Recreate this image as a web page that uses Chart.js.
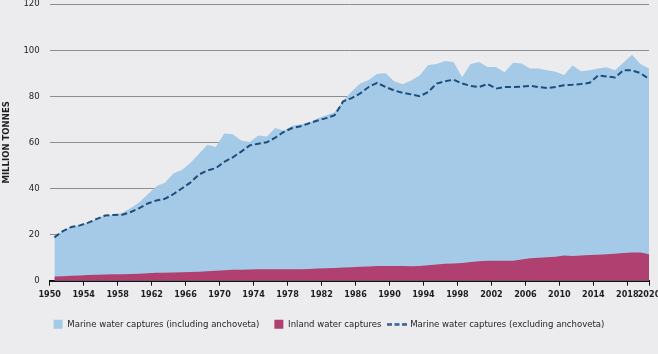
<!DOCTYPE html>
<html>
<head>
<meta charset="utf-8">
<script src="https://cdn.jsdelivr.net/npm/chart.js@4/dist/chart.umd.min.js"></script>
<style>
  html, body { margin: 0; padding: 0; background: #ececee; }
  #wrap { width: 658px; height: 354px; }
</style>
</head>
<body>
<div id="wrap"><canvas id="captureChart"></canvas></div>
<script>
// world capture production, million tonnes
const years = [
  1950, 1951, 1952, 1953, 1954, 1955, 1956, 1957, 1958, 1959,
  1960, 1961, 1962, 1963, 1964, 1965, 1966, 1967, 1968, 1969,
  1970, 1971, 1972, 1973, 1974, 1975, 1976, 1977, 1978, 1979,
  1980, 1981, 1982, 1983, 1984, 1985, 1986, 1987, 1988, 1989,
  1990, 1991, 1992, 1993, 1994, 1995, 1996, 1997, 1998, 1999,
  2000, 2001, 2002, 2003, 2004, 2005, 2006, 2007, 2008, 2009,
  2010, 2011, 2012, 2013, 2014, 2015, 2016, 2017, 2018, 2019,
  2020
];

// top of the light blue area (marine incl. anchoveta, on top of inland)
const marineIncl = [
  19.2, 21.5, 23.3, 24.0, 25.2, 26.8, 28.3, 28.5, 29.5, 31.5,
  34.0, 37.5, 41.0, 42.5, 46.5, 48.0, 51.0, 55.0, 59.0, 58.0,
  63.8, 63.5, 60.8, 60.2, 63.0, 62.5, 66.2, 65.0, 67.2, 67.8,
  68.5, 70.5, 71.8, 73.0, 78.0, 82.0, 85.5, 87.0, 89.8, 90.0,
  86.5, 85.2, 86.8, 89.0, 93.5, 94.0, 95.3, 94.9, 88.2, 94.0,
  94.9, 92.7, 92.7, 90.4, 94.5, 94.2, 92.0, 92.0, 91.3, 90.6,
  89.2, 93.3, 90.8, 91.3, 92.0, 92.6, 91.3, 94.6, 98.0, 94.0,
  92.0
];

// inland water captures
const inland = [
  1.8, 1.9, 2.1, 2.3, 2.5, 2.6, 2.7, 2.8, 2.8, 2.9,
  3.0, 3.2, 3.4, 3.4, 3.6, 3.7, 3.8, 3.9, 4.1, 4.3,
  4.5, 4.7, 4.8, 4.9, 5.0, 5.0, 5.0, 5.0, 5.0, 5.0,
  5.1, 5.3, 5.4, 5.5, 5.7, 5.8, 6.0, 6.2, 6.4, 6.4,
  6.4, 6.4, 6.3, 6.4, 6.7, 7.0, 7.3, 7.5, 7.7, 8.1,
  8.4, 8.6, 8.6, 8.6, 8.7, 9.2, 9.7, 10.0, 10.2, 10.4,
  10.9, 10.7, 10.9, 11.1, 11.3, 11.5, 11.7, 12.0, 12.2, 12.2,
  11.5
];

// dashed line (marine excl. anchoveta, on top of inland)
const marineExcl = [
  18.8, 21.5, 23.3, 24.0, 25.2, 26.8, 28.3, 28.5, 28.6, 29.8,
  31.5, 33.5, 34.8, 35.5, 37.5, 40.0, 42.5, 46.0, 47.8, 48.8,
  51.5, 53.5, 56.0, 58.7, 59.4, 60.0, 62.0, 64.5, 66.2, 67.0,
  68.3, 69.5, 70.5, 71.8, 77.8, 79.2, 81.2, 84.0, 85.8, 84.0,
  82.5, 81.5, 80.8, 80.0, 81.8, 85.5, 86.5, 87.2, 85.5, 84.5,
  84.0, 85.3, 83.3, 84.0, 84.0, 84.2, 84.5, 84.0, 83.6, 84.0,
  84.8, 85.0, 85.3, 85.8, 89.0, 88.6, 88.1, 91.3, 91.2, 90.0,
  87.5
];

const xTickLabels = [1950, 1954, 1958, 1962, 1966, 1970, 1974, 1978, 1982, 1986,
  1990, 1994, 1998, 2002, 2006, 2010, 2014, 2018, 2020];

const BLUE = "#a5cae8";
const MAGENTA = "#b0406f";
const NAVY = "#1d4e7b";
const TEXT = "#1e1e1e";
const FONT = "'Liberation Sans Narrow', 'DejaVu Sans Condensed', 'Arial Narrow', sans-serif";
// ticks sit a little before the year they label (except the last one)
const tickShift = 0.55;

function toPoints(values) {
    return values.map((v, i) => ({ x: years[i], y: v }));
}

// little dashed icon for the legend (blank strip on the right keeps it off the text)
const dashIcon = document.createElement("canvas");
dashIcon.width = 28;
dashIcon.height = 3;
const dctx = dashIcon.getContext("2d");
dctx.strokeStyle = "#2b5f93";
dctx.lineWidth = 2.5;
dctx.setLineDash([5, 2.5]);
dctx.beginPath();
dctx.moveTo(0, 1.5);
dctx.lineTo(20, 1.5);
dctx.stroke();

const ctx = document.getElementById("captureChart").getContext("2d");

new Chart(ctx, {
    type: "line",
    data: {
        datasets: [{
            label: "Marine water captures (including anchoveta)",
            data: toPoints(marineIncl),
            fill: "origin",
            backgroundColor: BLUE,
            borderWidth: 0,
            pointRadius: 0,
            pointStyle: "rect",
            tension: 0,
            order: 3
        }, {
            label: "Inland water captures",
            data: toPoints(inland),
            fill: "origin",
            backgroundColor: MAGENTA,
            borderWidth: 0,
            pointRadius: 0,
            pointStyle: "rect",
            tension: 0,
            order: 2
        }, {
            label: "Marine water captures (excluding anchoveta)",
            data: toPoints(marineExcl),
            fill: false,
            borderColor: NAVY,
            backgroundColor: NAVY,
            borderWidth: 2,
            borderDash: [6, 3],
            pointRadius: 0,
            pointStyle: dashIcon,
            tension: 0,
            order: 1
        }]
    },
    options: {
        responsive: true,
        maintainAspectRatio: false,
        animation: false,
        layout: {
            padding: { left: 0, right: 0, top: 0, bottom: 15 }
        },
        scales: {
            x: {
                type: "linear",
                min: years[0] - tickShift,
                max: years[years.length - 1],
                afterBuildTicks: (axis) => {
                    axis.ticks = xTickLabels.map(v => ({ value: v === years[years.length - 1] ? v : v - tickShift }));
                },
                afterFit: (axis) => { axis.paddingRight = 9; },
                ticks: {
                    autoSkip: false,
                    maxRotation: 0,
                    padding: 4,
                    color: TEXT,
                    font: { family: FONT, size: 9, weight: "bold" },
                    callback: (value, index) => xTickLabels[index]
                },
                grid: {
                    display: true,
                    drawOnChartArea: false,
                    drawTicks: true,
                    tickLength: 5,
                    color: "#111"
                },
                border: { display: true, color: "#111", width: 2 }
            },
            y: {
                min: 0,
                max: 120,
                afterFit: (axis) => { axis.paddingTop = 4; },
                ticks: {
                    stepSize: 20,
                    padding: 10,
                    color: TEXT,
                    font: { family: FONT, size: 9.5 }
                },
                grid: {
                    drawTicks: false,
                    color: (c) => c.tick && c.tick.value === 0 ? "rgba(0,0,0,0)" : "#8e8e8e",
                    lineWidth: 1
                },
                border: { display: false },
                title: {
                    display: true,
                    text: "MILLION TONNES",
                    color: TEXT,
                    font: { family: FONT, size: 9.5, weight: "bold" },
                    padding: { top: 1, bottom: 1 }
                }
            }
        },
        plugins: {
            legend: {
                position: "bottom",
                align: "center",
                labels: {
                    usePointStyle: true,
                    boxWidth: 9,
                    boxHeight: 9,
                    padding: 15,
                    color: TEXT,
                    font: { family: FONT, size: 9.5 },
                    sort: (a, b) => a.datasetIndex - b.datasetIndex
                }
            },
            tooltip: { enabled: false }
        }
    }
});
</script>
</body>
</html>
